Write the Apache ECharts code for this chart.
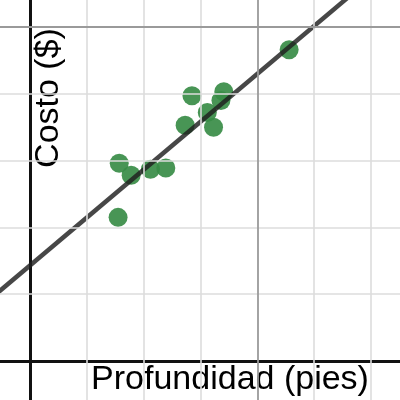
<!DOCTYPE html>
<html>
<head>
<meta charset="utf-8">
<script src="https://cdn.jsdelivr.net/npm/echarts@6/dist/echarts.min.js"></script>
<style>
html,body{margin:0;padding:0;background:#fff;overflow:hidden;}
#c{width:400px;height:400px;}
</style>
</head>
<body>
<div id="c"></div>
<script>
// Data (grid units: 1 unit per minor grid line)
var profundidad = [1.57, 1.78, 2.12, 2.39, 1.55, 2.73, 2.85, 3.12, 3.23, 3.36, 3.41, 4.56];
var costo       = [2.96, 2.78, 2.87, 2.89, 2.15, 3.53, 3.97, 3.72, 3.50, 3.90, 4.03, 4.66];
var lineSlope = 0.717;
var lineIntercept = 1.43;
var minorX = [1, 2, 3, 5, 6];
var minorY = [1, 2, 3, 4];
var majorX = [4];
var majorY = [5];
var xLabel = 'Profundidad (pies)';
var yLabel = 'Costo ($)';

// visible window of the graph (in grid units)
var xMin = -0.528, xMax = 6.511;
var yMin = -0.584, yMax = 5.404;

var pts = profundidad.map(function (x, i) { return [x, costo[i]]; });
var linePts = [xMin - 0.5, xMax + 0.5].map(function (x) { return [x, lineSlope * x + lineIntercept]; });

function vLines(arr) { return arr.map(function (v) { return { xAxis: v }; }); }
function hLines(arr) { return arr.map(function (v) { return { yAxis: v }; }); }

var chart = echarts.init(document.getElementById('c'), null, { renderer: 'canvas' });
chart.setOption({
  animation: false,
  backgroundColor: '#fff',
  grid: { left: 0, right: 0, top: 0, bottom: 0, containLabel: false },
  xAxis: {
    type: 'value', min: xMin, max: xMax,
    axisLabel: { show: false }, axisTick: { show: false },
    axisLine: { show: true, onZero: true, lineStyle: { color: '#111', width: 3 } },
    splitLine: { show: false }
  },
  yAxis: {
    type: 'value', min: yMin, max: yMax,
    axisLabel: { show: false }, axisTick: { show: false },
    axisLine: { show: true, onZero: true, lineStyle: { color: '#111', width: 3 } },
    splitLine: { show: false }
  },
  series: [
    {
      type: 'line', data: [], silent: true, z: 0,
      markLine: {
        silent: true, symbol: 'none', label: { show: false }, animation: false,
        lineStyle: { color: '#dcdcdc', width: 1.6, type: 'solid' },
        data: vLines(minorX).concat(hLines(minorY))
      }
    },
    {
      type: 'line', data: [], silent: true, z: 1,
      markLine: {
        silent: true, symbol: 'none', label: { show: false }, animation: false,
        lineStyle: { color: '#9a9a9a', width: 1.8, type: 'solid' },
        data: vLines(majorX).concat(hLines(majorY))
      }
    },
    {
      type: 'scatter', data: pts, symbolSize: 19, z: 3,
      itemStyle: { color: '#388c46', opacity: 0.92 }
    },
    {
      type: 'line', data: linePts, showSymbol: false, symbol: 'none', z: 4,
      lineStyle: { color: 'rgba(30,30,30,0.82)', width: 4.5 }
    }
  ],
  graphic: [
    {
      type: 'text', x: 230, y: 380,
      style: { text: xLabel, fontFamily: 'Liberation Sans, Arial, sans-serif', fontSize: 34, fill: '#000', align: 'center', verticalAlign: 'middle' }
    },
    {
      type: 'text', x: 49, y: 98, rotation: Math.PI / 2,
      style: { text: yLabel, fontFamily: 'Liberation Sans, Arial, sans-serif', fontSize: 34, fill: '#000', align: 'center', verticalAlign: 'middle' }
    }
  ]
});
</script>
</body>
</html>
